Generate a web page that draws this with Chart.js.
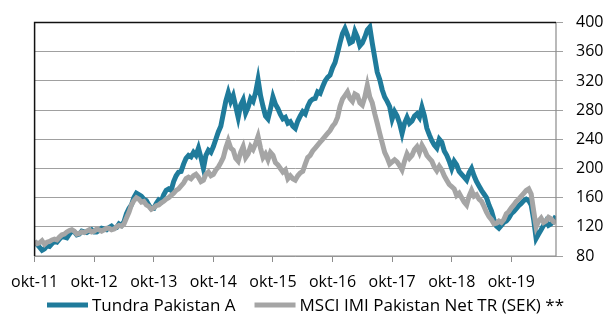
<!doctype html>
<html lang="sv">

<head>
    <meta charset="utf-8">
    <title>Tundra Pakistan</title>
    <script src="https://cdn.jsdelivr.net/npm/chart.js"></script>
    <style>
        html, body { margin: 0; padding: 0; background: #fff; }
        #wrap { width: 611px; height: 315px; position: relative; }
    </style>
    <script>
        // månader, okt-11 .. jul-20 (index = månader sedan okt-11)
        const months = [
            'okt-11', 'nov-11', 'dec-11',
            'jan-12', 'feb-12', 'mar-12', 'apr-12', 'maj-12', 'jun-12', 'jul-12', 'aug-12', 'sep-12', 'okt-12', 'nov-12', 'dec-12',
            'jan-13', 'feb-13', 'mar-13', 'apr-13', 'maj-13', 'jun-13', 'jul-13', 'aug-13', 'sep-13', 'okt-13', 'nov-13', 'dec-13',
            'jan-14', 'feb-14', 'mar-14', 'apr-14', 'maj-14', 'jun-14', 'jul-14', 'aug-14', 'sep-14', 'okt-14', 'nov-14', 'dec-14',
            'jan-15', 'feb-15', 'mar-15', 'apr-15', 'maj-15', 'jun-15', 'jul-15', 'aug-15', 'sep-15', 'okt-15', 'nov-15', 'dec-15',
            'jan-16', 'feb-16', 'mar-16', 'apr-16', 'maj-16', 'jun-16', 'jul-16', 'aug-16', 'sep-16', 'okt-16', 'nov-16', 'dec-16',
            'jan-17', 'feb-17', 'mar-17', 'apr-17', 'maj-17', 'jun-17', 'jul-17', 'aug-17', 'sep-17', 'okt-17', 'nov-17', 'dec-17',
            'jan-18', 'feb-18', 'mar-18', 'apr-18', 'maj-18', 'jun-18', 'jul-18', 'aug-18', 'sep-18', 'okt-18', 'nov-18', 'dec-18',
            'jan-19', 'feb-19', 'mar-19', 'apr-19', 'maj-19', 'jun-19', 'jul-19', 'aug-19', 'sep-19', 'okt-19', 'nov-19', 'dec-19',
            'jan-20', 'feb-20', 'mar-20', 'apr-20', 'maj-20', 'jun-20', 'jul-20'
        ];
        const tickMonths = [0, 12, 24, 36, 48, 60, 72, 84, 96];

        // två noteringar per månad (början / mitten)
        const tundra = [
            100, 96, 92, 88, 90, 94,
            93, 97, 100, 99, 103, 107, 106, 105, 110, 114, 113, 109, 110, 114, 113, 112, 114, 116, 113, 113, 115, 118, 117, 116,
            119, 121, 118, 119, 124, 122, 127, 138, 145, 150, 160, 166, 164, 162, 158, 156, 150, 145, 145, 152, 157, 155, 164, 170,
            172, 170, 182, 190, 195, 196, 206, 214, 218, 216, 222, 218, 228, 215, 200, 218, 225, 222, 230, 240, 250, 258, 275, 292,
            304, 292, 300, 285, 270, 287, 294, 276, 284, 296, 292, 304, 322, 300, 285, 272, 268, 282, 298, 288, 282, 274, 268, 270,
            262, 264, 258, 255, 265, 272, 278, 275, 285, 292, 295, 296, 305, 303, 312, 320, 325, 328, 338, 345, 358, 372, 385, 392,
            383, 372, 374, 388, 380, 368, 372, 380, 390, 394, 372, 352, 332, 322, 308, 298, 292, 285, 268, 278, 272, 262, 248, 262,
            270, 262, 265, 272, 275, 270, 284, 272, 255, 246, 238, 232, 228, 240, 236, 224, 218, 210, 200, 210, 205, 196, 192, 188,
            184, 194, 200, 190, 182, 176, 170, 165, 160, 150, 142, 130, 121, 118, 122, 126, 128, 132, 138, 141, 145, 149, 152, 156,
            158, 156, 150, 130, 104, 110, 116, 122, 128, 122, 124, 128, 135
        ];

        const msci = [
            100, 97, 98, 101, 96, 99,
            100, 102, 103, 102, 106, 109, 110, 113, 115, 116, 114, 110, 111, 113, 112, 114, 116, 113, 114, 117, 116, 114, 116, 118,
            118, 116, 117, 120, 122, 121, 124, 132, 140, 150, 156, 160, 158, 154, 155, 150, 148, 144, 146, 149, 150, 153, 155, 158,
            160, 163, 166, 170, 172, 176, 180, 186, 188, 186, 190, 192, 188, 182, 184, 192, 195, 190, 192, 198, 202, 208, 215, 228,
            238, 228, 225, 214, 210, 222, 230, 215, 220, 230, 226, 234, 244, 228, 215, 220, 212, 222, 218, 208, 205, 200, 195, 198,
            186, 190, 186, 184, 190, 194, 196, 206, 215, 218, 224, 228, 232, 236, 240, 244, 248, 252, 258, 262, 270, 285, 295, 300,
            305, 296, 292, 302, 300, 290, 287, 298, 314, 298, 290, 275, 262, 248, 235, 222, 215, 206, 209, 212, 209, 204, 198, 210,
            220, 214, 218, 226, 230, 222, 232, 226, 218, 214, 210, 202, 197, 203, 198, 190, 184, 178, 175, 172, 163, 166, 160, 154,
            150, 162, 170, 162, 164, 158, 155, 148, 140, 134, 130, 124, 125, 128, 126, 130, 138, 141, 146, 150, 155, 158, 162, 166,
            170, 172, 165, 142, 120, 128, 132, 126, 128, 133, 131, 127, 125
        ];

        const seriesNames = ['Tundra Pakistan A', 'MSCI IMI Pakistan Net TR (SEK) **'];
        const yMin = 80, yMax = 400, yStep = 40;
    </script>
</head>

<body>
    <div id="wrap"><canvas id="chart"></canvas></div>

    <script>
        const FONT = "'Open Sans', 'Noto Sans', sans-serif";
        Chart.defaults.font.family = FONT;
        Chart.defaults.font.size = 16;
        Chart.defaults.color = '#000';

        const toPoints = (arr) => arr.map((v, i) => ({ x: i / 2, y: v }));

        // ram runt diagramytan: svart vänster/topp, grå höger/botten
        const frame = {
            id: 'frame',
            afterDraw(chart) {
                const a = chart.chartArea;
                const c = chart.ctx;
                c.save();
                c.strokeStyle = '#8c8c8c';
                c.lineWidth = 1.2;
                c.beginPath();
                c.moveTo(a.right, a.top);
                c.lineTo(a.right, a.bottom);
                c.lineTo(a.left, a.bottom);
                c.stroke();
                c.lineWidth = 1.5;
                c.strokeStyle = '#111';
                c.beginPath();
                c.moveTo(a.left, a.bottom);
                c.lineTo(a.left, a.top);
                c.lineTo(a.right, a.top);
                c.stroke();
                c.restore();
            }
        };

        // förklaring under x-axeln, en rad
        const bottomLegend = {
            id: 'bottomLegend',
            afterDraw(chart, args, opts) {
                const c = chart.ctx;
                c.save();
                c.font = opts.fontSize + 'px ' + FONT;
                c.textBaseline = 'middle';
                c.fillStyle = '#000';
                let x = opts.left;
                chart.data.datasets.forEach((ds) => {
                    c.strokeStyle = ds.borderColor;
                    c.lineWidth = 5;
                    c.beginPath();
                    c.moveTo(x, opts.y);
                    c.lineTo(x + opts.lineLen, opts.y);
                    c.stroke();
                    x += opts.lineLen + opts.gap;
                    c.fillText(ds.label, x, opts.y + 1);
                    x += c.measureText(ds.label).width + opts.spacing;
                });
                c.restore();
            }
        };

        new Chart(document.getElementById('chart'), {
            type: 'line',
            data: {
                datasets: [{
                    label: seriesNames[0],
                    data: toPoints(tundra),
                    borderColor: '#1f7b9b',
                    borderWidth: 5,
                    pointRadius: 0,
                    tension: 0,
                    order: 1
                }, {
                    label: seriesNames[1],
                    data: toPoints(msci),
                    borderColor: '#a5a5a5',
                    borderWidth: 5,
                    pointRadius: 0,
                    tension: 0,
                    order: 0
                }]
            },
            options: {
                responsive: true,
                maintainAspectRatio: false,
                animation: false,
                layout: { padding: { left: 33, top: 11.4, right: 0, bottom: 11.8 } },
                plugins: {
                    tooltip: { enabled: false },
                    legend: { display: false },
                    bottomLegend: { left: 47, y: 305, lineLen: 41, gap: 4, spacing: 19, fontSize: 17 }
                },
                scales: {
                    x: {
                        type: 'linear',
                        min: 0,
                        max: months.length - 1,
                        afterBuildTicks: (scale) => {
                            scale.ticks = tickMonths.map(v => ({ value: v }));
                        },
                        grid: {
                            drawOnChartArea: false,
                            drawTicks: true,
                            tickLength: 6,
                            color: '#8c8c8c'
                        },
                        border: { display: false },
                        ticks: {
                            autoSkip: false,
                            maxRotation: 0,
                            padding: 11,
                            callback: (val) => months[val]
                        }
                    },
                    y: {
                        position: 'right',
                        min: yMin,
                        max: yMax,
                        ticks: { stepSize: yStep, padding: 13 },
                        grid: {
                            color: '#a0a0a0',
                            lineWidth: 1,
                            tickLength: 7
                        },
                        border: { display: false },
                        afterFit: (scale) => { scale.width = 55; }
                    }
                }
            },
            plugins: [frame, bottomLegend]
        });
    </script>
</body>

</html>
